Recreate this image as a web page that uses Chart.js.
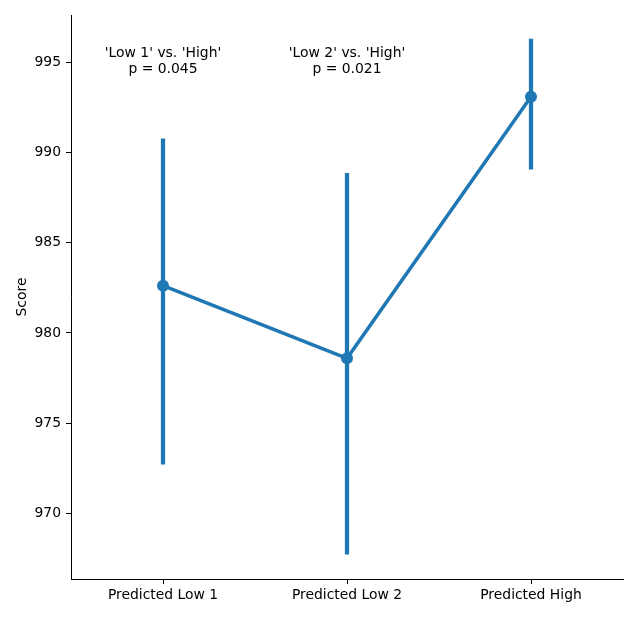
<!DOCTYPE html>
<html>
<head>
<meta charset="utf-8">
<script src="https://cdn.jsdelivr.net/npm/chart.js@4/dist/chart.umd.min.js"></script>
<style>
  html, body { margin: 0; padding: 0; background: #fff; }
  #wrap { width: 638px; height: 638px; }
</style>
</head>
<body>
<div id="wrap"><canvas id="scoreChart" width="638" height="638"></canvas></div>
<script>
// data
const categories = ['Predicted Low 1', 'Predicted Low 2', 'Predicted High'];
const means = [982.62, 978.59, 993.09];
const ciLow = [972.72, 967.73, 989.07];
const ciHigh = [990.75, 988.85, 996.29];
const yTicks = [970, 975, 980, 985, 990, 995];
const notes = [
    { cat: 0, lines: ["'Low 1' vs. 'High'", 'p = 0.045'] },
    { cat: 1, lines: ["'Low 2' vs. 'High'", 'p = 0.021'] }
];

const blue = '#1f77b4';
const font = 'DejaVu Sans';
const fsize = 13.9;

// Text above the points, placed with the scales
const notePlugin = {
    id: 'notes',
    afterDatasetsDraw(chart) {
        const c = chart.ctx;
        const xs = chart.scales.x;
        const ys = chart.scales.y;
        c.save();
        c.font = fsize + "px '" + font + "'";
        c.fillStyle = '#000';
        c.textAlign = 'center';
        c.textBaseline = 'middle';
        notes.forEach(function (n) {
            const x = xs.getPixelForValue(n.cat);
            const y = ys.getPixelForValue(995.5);
            n.lines.forEach(function (t, i) {
                c.fillText(t, x, y + i * 16);
            });
        });
        c.restore();
    }
};

const ctx = document.getElementById('scoreChart');
new Chart(ctx, {
    data: {
        labels: categories,
        datasets: [
            {
                type: 'line',
                data: means,
                borderColor: blue,
                backgroundColor: blue,
                borderWidth: 3.5,
                tension: 0,
                pointRadius: 6,
                pointBorderWidth: 0,
                order: 0
            },
            {
                type: 'bar',
                data: ciLow.map(function (lo, i) { return [lo, ciHigh[i]]; }),
                backgroundColor: blue,
                borderWidth: 0,
                barThickness: 3.6,
                order: 1
            }
        ]
    },
    options: {
        responsive: false,
        animation: false,
        layout: { padding: { left: 0, top: 15, right: 15, bottom: 0 } },
        plugins: {
            legend: { display: false },
            tooltip: { enabled: false }
        },
        scales: {
            x: {
                offset: true,
                grid: { offset: false, drawOnChartArea: false, drawTicks: true, tickLength: 5, color: '#000' },
                border: { display: true, color: '#000', width: 1 },
                ticks: { color: '#000', font: { family: font, size: fsize }, padding: 3, maxRotation: 0 },
                afterFit(scale) { scale.height = 59; }
            },
            y: {
                min: 966.36,
                max: 997.62,
                grid: { drawOnChartArea: false, drawTicks: true, tickLength: 5, color: '#000' },
                border: { display: true, color: '#000', width: 1 },
                ticks: { color: '#000', font: { family: font, size: fsize }, padding: 5, stepSize: 5, includeBounds: false },
                afterBuildTicks(scale) { scale.ticks = yTicks.map(function (v) { return { value: v }; }); },
                title: { display: true, text: 'Score', color: '#000', font: { family: font, size: fsize }, padding: { top: 14, bottom: 0 } },
                afterFit(scale) { scale.width = 71; }
            }
        }
    },
    plugins: [notePlugin]
});
</script>
</body>
</html>
